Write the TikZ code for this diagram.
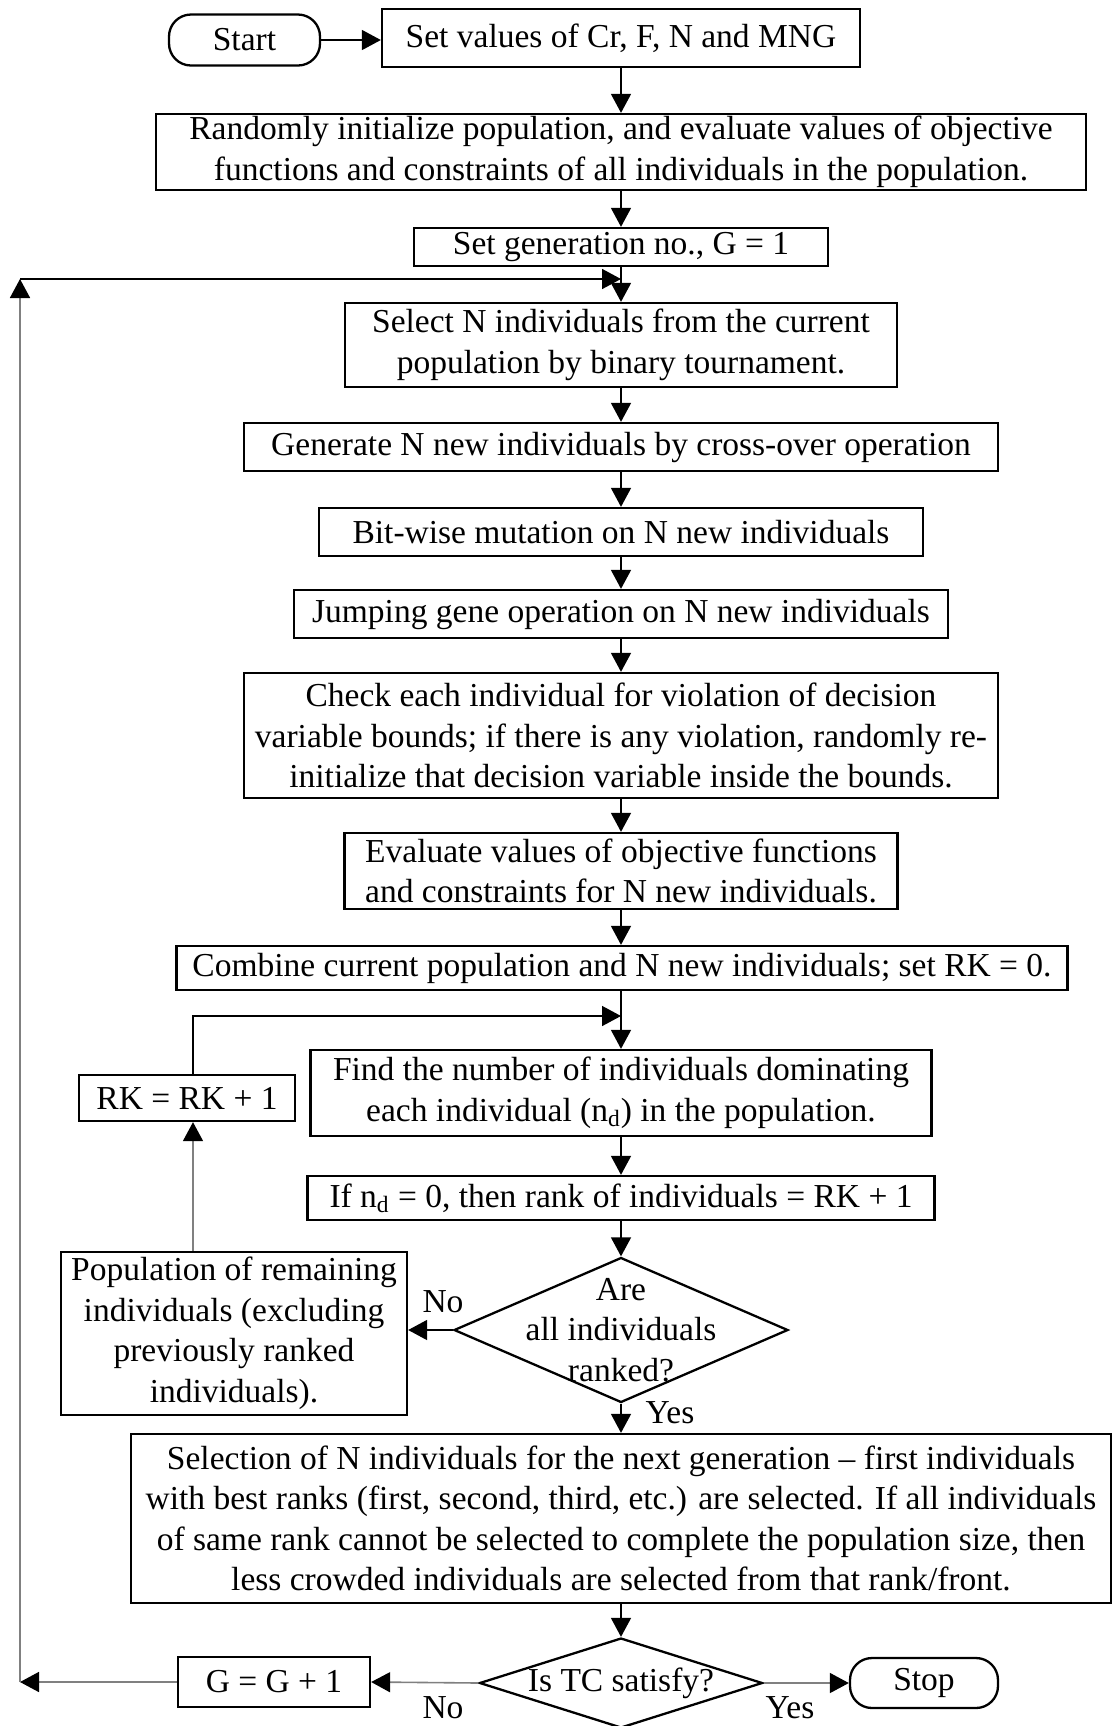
\documentclass[tikz,border=0pt]{standalone}
\usepackage{fontspec}
\setmainfont{Liberation Serif}
\usetikzlibrary{shapes.geometric,arrows.meta}
\begin{document}
\begin{tikzpicture}[x=0.5pt,y=-0.5pt,
  every node/.style={font=\fontsize{16.75}{20.25}\selectfont},
  box/.style={draw, line width=1.15pt, inner sep=0pt, align=center},
  term/.style={box, rounded corners=11pt},
  dec/.style={draw, line width=1.15pt, shape=diamond, inner sep=0pt},
  conn/.style={line width=0.8pt, -{Triangle[length=9.5pt,width=10pt]}},
  gconn/.style={line width=0.8pt, draw=black!50, -{Triangle[length=9.5pt,width=10pt,color=black]}},
  gline/.style={line width=0.8pt, draw=black!50}
]
\useasboundingbox (0,0) rectangle (1113,1726);

\node[term, minimum width=75.5pt, minimum height=25.5pt] (start) at (244.5,40) {Start};
\node[box, minimum width=239pt, minimum height=29pt] (setv) at (621,38) {Set values of Cr, F, N and MNG};
\node[box, minimum width=465pt, minimum height=38pt] (rand) at (621,152) {Randomly initialize population, and evaluate values of objective\\functions and constraints of all individuals in the population.};
\node[box, minimum width=207pt, minimum height=19pt] (setg) at (621,247) {Set generation no., G = 1};
\coordinate (j1) at (621,279);
\node[box, minimum width=276pt, minimum height=42pt] (sel) at (621,345) {Select N individuals from the current\\population by binary tournament.};
\node[box, minimum width=377pt, minimum height=24pt] (gen) at (621,447) {Generate N new individuals by cross-over operation};
\node[box, minimum width=302pt, minimum height=24pt] (bit) at (621,532) {Bit-wise mutation on N new individuals};
\node[box, minimum width=327pt, minimum height=24pt] (jump) at (621,614) {Jumping gene operation on N new individuals};
\node[box, minimum width=377pt, minimum height=62.5pt] (check) at (621,735.5) {Check each individual for violation of decision\\variable bounds; if there is any violation, randomly re-\\initialize that decision variable inside the bounds.};
\node[box, minimum width=276.5pt, minimum height=38pt] (eval) at (621,871) {Evaluate values of objective functions\\and constraints for N new individuals.};
\node[box, minimum width=445.5pt, minimum height=22pt] (comb) at (622,968) {Combine current population and N new individuals; set RK = 0.};
\coordinate (j2) at (621,1016);
\node[box, minimum width=310.5pt, minimum height=43pt] (find) at (621,1093) {Find the number of individuals dominating\\each individual (n\textsubscript{d}) in the population.};
\node[box, minimum width=313.5pt, minimum height=22pt] (ifnd) at (621,1198) {If n\textsubscript{d} = 0, then rank of individuals = RK + 1};
\node[dec, minimum width=167pt, minimum height=72.5pt, label={[align=center]center:Are\\all individuals\\ranked?}] (dia1) at (621,1330) {};
\node[box, minimum width=173pt, minimum height=81.5pt] (pop) at (234,1333.5) {Population of remaining\\individuals (excluding\\previously ranked\\individuals).};
\node[box, minimum width=108pt, minimum height=23pt] (rk) at (187,1098) {RK = RK + 1};
\node[box, minimum width=490pt, minimum height=84.5pt] (selc) at (621,1518.5) {Selection of N individuals for the next generation -- first individuals\\with best ranks (first, second, third, etc.) are selected. If all individuals\\of same rank cannot be selected to complete the population size, then\\less crowded individuals are selected from that rank/front.};
\node[dec, minimum width=141.5pt, minimum height=45pt, label=center:Is TC satisfy?] (dia2) at (621,1683) {};
\node[box, minimum width=96pt, minimum height=25pt] (gg) at (274,1682) {G = G + 1};
\node[term, minimum width=74pt, minimum height=25pt] (stop) at (924,1683) {Stop};
\coordinate (L1) at (20,1682);
\coordinate (L2) at (20,279);

\node (no1) at (443,1302) {No};
\node (yes1) at (670,1413) {Yes};
\node (no2) at (443,1708) {No};
\node (yes2) at (790,1708) {Yes};

\draw[conn] (start.east) -- (start.east -| setv.west);
\draw[conn] (setv) -- (rand);
\draw[conn] (rand) -- (setg);
\draw[conn] (setg) -- (sel);
\draw[conn] (sel) -- (gen);
\draw[conn] (gen) -- (bit);
\draw[conn] (bit) -- (jump);
\draw[conn] (jump) -- (check);
\draw[conn] (check) -- (eval);
\draw[conn] (eval) -- (j2 |- comb.north);
\draw[conn] (j2 |- comb.south) -- (find.north);
\draw[conn] (find) -- (ifnd);
\draw[conn] (ifnd) -- (dia1);
\draw[conn] (dia1) -- (selc);
\draw[conn] (selc) -- (dia2);
\draw[conn] (dia1.west) -- (pop.east |- dia1.west);
\draw[gconn] ([xshift=3pt]rk.south |- pop.north) -- ([xshift=3pt]rk.south);
\draw[conn] ([xshift=3pt]rk.north) |- (j2);
\draw[gconn] (dia2.west) -- (gg.east);
\draw[gconn] (dia2.east) -- (stop.west);
\draw[gconn] (gg.west) -- (L1);
\draw[gconn] (L1) -- (L2);
\draw[conn] (L2) -- (j1);
\end{tikzpicture}
\end{document}
